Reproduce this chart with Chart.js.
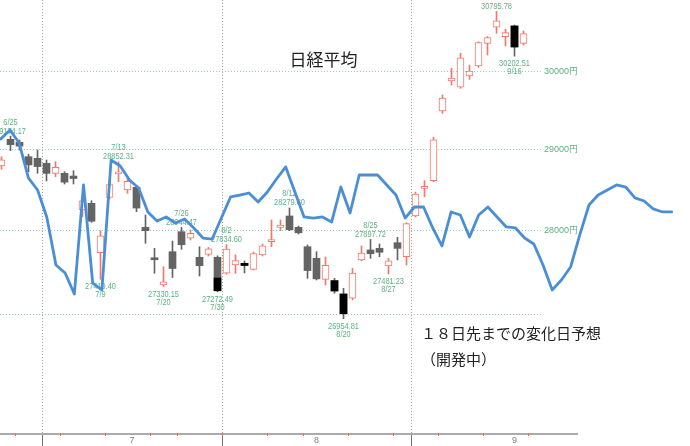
<!DOCTYPE html>
<html lang="ja">
<head>
<meta charset="utf-8">
<title>日経平均</title>
<script src="https://cdn.jsdelivr.net/npm/chart.js@4.4.1/dist/chart.umd.min.js"></script>
<style>
html,body{margin:0;padding:0;background:#ffffff;overflow:hidden;}
#box{position:relative;width:690px;height:446px;}
canvas{display:block;}
</style>
</head>
<body>
<div id="box"><canvas id="chart" width="690" height="446"></canvas></div>
<script>
// ================= DATA =================
const dates = ['6/24','6/25','6/28','6/29','6/30','7/1','7/2','7/5','7/6','7/7','7/8','7/9','7/12','7/13','7/14','7/15','7/16','7/19','7/20','7/21','7/26','7/27','7/28','7/29','7/30','8/2','8/3','8/4','8/5','8/6','8/10','8/11','8/12','8/13','8/16','8/17','8/18','8/19','8/20','8/23','8/24','8/25','8/26','8/27','8/30','8/31','9/1','9/2','9/3','9/6','9/7','9/8','9/9','9/10','9/13','9/14','9/15','9/16','9/17'];
const opens = [28800,29134,29096,28915,28895,28833,28708,28708,28674,28255,28337,27737,28411,28700,28501,28534,28044,27662,27352,27749,27991,27911,27682,27718,27682,27491,27590,27610,27538,27710,27870,28044,28182,28044,27809,27670,27419,27403,27245,27195,27650,27770,27790,27578,27858,27689,28182,28522,28616,29493,29879,29798,29944,30074,30371,30583,30458,30600,30371];
const highs = [28915,29174.17,29125,28945,28999,28874,28853,28728,28740,28439,28369,28003,28600,28852.31,28646,28550,28194,27790,27569,27878,28044.47,28011,27809,27800,27700,27834.60,27710,27638,27745,27842,28133,28133,28279.80,28060,27830,27749,27686,27431,27313,27550,27818,27897.72,27842,27670,27923,28100,28476,28616,29159,29699,30044,30240,30087,30392,30460,30795.78,30556,30613,30534];
const lows = [28758,28991,28999,28728,28708,28612,28666,28575,28575,28173,28105,27419.40,28390,28604,28460,28234,27850,27491,27330.15,27441,27778,27890,27459,27698,27272.49,27480,27491,27495,27530,27698,27809,28003,28003,27963,27431,27411,27352,27254,26954.81,27175,27641,27670,27689,27481.23,27650,27590,28170,28418,28604,29464,29828,29785,29901,30057,30218,30503,30336,30202.51,30349];
const closes = [28875.23,29066.18,29048.02,28812.63,28791.53,28707.04,28783.28,28598.19,28643.21,28366.95,28118.03,27940.42,28569.02,28718.24,28608.49,28279.09,28003.08,27652.74,27388.16,27548.00,27833.29,27970.22,27581.66,27782.42,27283.59,27781.02,27641.83,27584.08,27728.12,27820.04,27888.15,28070.51,28015.02,27977.15,27523.19,27424.47,27585.91,27281.17,27013.25,27494.24,27732.10,27724.80,27742.29,27641.14,27789.29,28089.54,28451.02,28543.51,29128.11,29659.89,29916.14,30181.21,30008.19,30381.84,30447.37,30670.10,30511.71,30323.34,30500.05];

// days drawn with a black body section (from close up to the given top)
const blackDates = ['7/30','8/4','8/19','8/20','9/16'];
const blackTops  = [27435, 27610, 27403, 27245, 30600];

// change-day forecast line (starts one step before 6/25, runs 18 days past the last candle)
const cycleValues = [29138,29252,29087,28650,28501,28170,27590,27494,27245,28563,27375,27293,28874,28799,28625,28526,28231,28121,28170,28096,28145,28036,27914,27902,28157,28415,28439,28464,28353,28476,28637,28787,28476,28170,28157,28170,28109,28538,28218,28687,28687,28687,28563,28439,28157,28292,28292,28036,27818,28231,28194,27927,28194,28292,28170,28048,28036,27914,27842,27590,27293,27411,27566,27951,28316,28439,28501,28563,28538,28403,28366,28268,28231,28231];

// annotated swing highs / lows
const markDates = ['6/25','7/9','7/13','7/20','7/26','7/30','8/2','8/12','8/20','8/25','8/27','9/14','9/16'];
const markKinds = ['H','L','H','L','H','L','H','H','L','H','L','H','L'];

// axis ticks
const monthLabels   = ['7','8','9'];
const monthLabelPos = [14.5, 35, 57];
const yGridValues   = [27000, 28000, 29000, 30000];
const yTickLabels   = ['', '28000円', '29000円', '30000円'];

const titleText = '日経平均';
const noteLines = ['１８日先までの変化日予想', '（開発中）'];

// ================= LAYOUT / STYLE =================
const W = 690, H = 446;
const PLOT_RIGHT = 541;       // chart area right edge (y labels to the right)
const AXIS_H = 13;            // bottom axis height
const DAY_PX = 9;             // candle spacing
const CYC_PX = 9.19;          // forecast line spacing
const xMin = -1.5 / DAY_PX, xMax = (PLOT_RIGHT - 1.5) / DAY_PX;
const cMin = -0.81 / CYC_PX,  cMax = (PLOT_RIGHT - 0.81) / CYC_PX;
const Y_AT_30000 = 71.7, PX_PER_LN = 2308;
const yMax = 30000 * Math.exp(Y_AT_30000 / PX_PER_LN);
const yMin = 30000 * Math.exp(-(H - AXIS_H - Y_AT_30000) / PX_PER_LN);

const RED = '#f2786a', GREY = '#646464', BLACK = '#000000';
const LABEL_GREEN = '#5cb084', GRID_GREEN = '#93d3bd';
const LINE_BLUE = '#4a8fd6';
const LABEL_FAMILY = '"Liberation Sans", Arial, sans-serif';
const CJK = '"Noto Sans CJK JP", "Noto Sans CJK SC", sans-serif';

// ================= DATASETS =================
const idx = dates.map((_, i) => i);
const isUp = i => closes[i] >= opens[i];
const wickData = idx.map(i => ({x: i, y: [lows[i], highs[i]]}));
const bodyData = idx.map(i => ({x: i, y: [opens[i], closes[i]]}));
const blackData = blackDates.map((d, j) => { const i = dates.indexOf(d); return {x: i, y: [closes[i], blackTops[j]]}; });
const cycleData = cycleValues.map((v, j) => ({x: j, y: v}));

const monthBoundaries = [];
for (let i = 1; i < dates.length; i++) {
  if (dates[i].split('/')[0] !== dates[i-1].split('/')[0]) monthBoundaries.push(i - 0.5);
}
const weekday = dates.map(s => { const [m, d] = s.split('/').map(Number); return new Date(2021, m - 1, d).getDay(); });
const weekBoundaries = [];
for (let i = 0; i < dates.length; i++) {
  if (i === dates.length - 1 ? weekday[i] === 5 : weekday[i + 1] < weekday[i]) weekBoundaries.push(i + 0.5);
}
const xTickValues = monthBoundaries.concat(monthLabelPos).sort((a, b) => a - b);
const isBoundary = v => monthBoundaries.includes(v);

const noPad = s => { s.paddingTop = 0; s.paddingBottom = 0; s.paddingLeft = 0; s.paddingRight = 0; };

// ================= PLUGIN =================
const overlay = {
  id: 'overlay',
  afterDatasetDraw(chart, args) {
    if (chart.data.datasets[args.index].label !== 'black') return;
    const ctx = chart.ctx, xs = chart.scales.x, ys = chart.scales.y;
    ctx.save();
    ctx.fillStyle = LABEL_GREEN;
    ctx.font = '9.5px ' + LABEL_FAMILY;
    ctx.textAlign = 'center';
    ctx.textBaseline = 'alphabetic';
    const sx = Math.min(1, 31 / ctx.measureText('28852.31').width);
    const put = (t, x, y) => { ctx.save(); ctx.translate(x, y); ctx.scale(sx, 1); ctx.fillText(t, 0, 0); ctx.restore(); };
    markDates.forEach((d, j) => {
      const i = dates.indexOf(d);
      const hi = markKinds[j] === 'H';
      const v = hi ? highs[i] : lows[i];
      const px = xs.getPixelForValue(i), py = ys.getPixelForValue(v);
      if (hi) { put(v.toFixed(2), px, py - 2.5); put(d, px, py - 11.5); }
      else    { put(v.toFixed(2), px, py + 10);  put(d, px, py + 18); }
    });
    ctx.restore();
  },
  afterDraw(chart) {
    const ctx = chart.ctx, xs = chart.scales.x, area = chart.chartArea;
    ctx.save();
    // axis base line
    ctx.strokeStyle = '#ababab'; ctx.lineWidth = 2;
    ctx.beginPath(); ctx.moveTo(0, area.bottom + 1); ctx.lineTo(578, area.bottom + 1); ctx.stroke();
    // weekly red ticks
    ctx.fillStyle = '#f06a5a';
    weekBoundaries.forEach(v => { const px = Math.round(xs.getPixelForValue(v)); ctx.fillRect(px, area.bottom, 1, 3); });
    // title
    ctx.fillStyle = '#222222';
    ctx.font = '17px ' + CJK;
    ctx.textAlign = 'center'; ctx.textBaseline = 'middle';
    ctx.fillText(titleText, 323.5, 60);
    // note
    ctx.font = '15px ' + CJK;
    ctx.textAlign = 'left';
    ctx.fillText(noteLines[0], 421, 333);
    ctx.fillText(noteLines[1], 421, 359);
    ctx.restore();
  }
};

// ================= CHART =================
new Chart(document.getElementById('chart'), {
  type: 'bar',
  data: {
    datasets: [
      { label: 'wick', type: 'bar', data: wickData, xAxisID: 'x', yAxisID: 'y', order: 4,
        grouped: false, barThickness: 1, borderWidth: 0,
        backgroundColor: c => isUp(c.dataIndex) ? RED : GREY },
      { label: 'body', type: 'bar', data: bodyData, xAxisID: 'x', yAxisID: 'y', order: 3,
        grouped: false, barThickness: 7, minBarLength: 2, borderSkipped: false,
        backgroundColor: c => isUp(c.dataIndex) ? '#ffffff' : GREY,
        borderColor: c => isUp(c.dataIndex) ? RED : GREY,
        borderWidth: c => isUp(c.dataIndex) ? 1 : 0 },
      { label: 'black', type: 'bar', data: blackData, xAxisID: 'x', yAxisID: 'y', order: 2,
        grouped: false, barThickness: 7, borderWidth: 0, backgroundColor: BLACK },
      { label: 'cycle', type: 'line', data: cycleData, xAxisID: 'xc', yAxisID: 'y', order: 0,
        borderColor: LINE_BLUE, borderWidth: 2.8, pointRadius: 0, tension: 0, clip: false,
        borderJoinStyle: 'round', borderCapStyle: 'round' }
    ]
  },
  options: {
    responsive: false, animation: false, devicePixelRatio: 1, events: [],
    layout: { padding: 0 },
    plugins: { legend: { display: false }, tooltip: { enabled: false }, title: { display: false } },
    scales: {
      x: { type: 'linear', position: 'bottom', min: xMin, max: xMax, offset: false, bounds: 'data',
        afterBuildTicks: s => { s.ticks = xTickValues.map(v => ({ value: v })); },
        afterFit: s => { s.height = AXIS_H; noPad(s); },
        ticks: { autoSkip: false, maxRotation: 0, minRotation: 0, padding: -11, color: '#808080',
                 font: { size: 9, family: LABEL_FAMILY },
                 callback: v => { const k = monthLabelPos.indexOf(v); return k >= 0 ? monthLabels[k] : ''; } },
        grid: { offset: false, lineWidth: 1, drawTicks: true, tickLength: AXIS_H, tickWidth: 1, tickBorderDash: [],
                color: c => isBoundary(c.tick.value) ? '#a0a0a0' : 'rgba(0,0,0,0)',
                tickColor: c => isBoundary(c.tick.value) ? '#707070' : 'rgba(0,0,0,0)' },
        border: { display: false, dash: [1, 2] } },
      xc: { type: 'linear', display: false, offset: false, bounds: 'data',
        afterDataLimits: s => { s.min = cMin; s.max = cMax; } },
      y: { type: 'logarithmic', position: 'right', min: yMin, max: yMax, beginAtZero: false, bounds: 'data',
        afterBuildTicks: s => { s.ticks = yGridValues.map(v => ({ value: v })); },
        afterFit: s => { s.width = W - PLOT_RIGHT; noPad(s); },
        ticks: { padding: 3, color: LABEL_GREEN, font: { size: 9, family: LABEL_FAMILY },
                 callback: (v, i) => yTickLabels[i] },
        grid: { color: GRID_GREEN, lineWidth: 1, drawTicks: false },
        border: { display: false, dash: [1, 2] } }
    }
  },
  plugins: [overlay]
});
</script>
</body>
</html>
